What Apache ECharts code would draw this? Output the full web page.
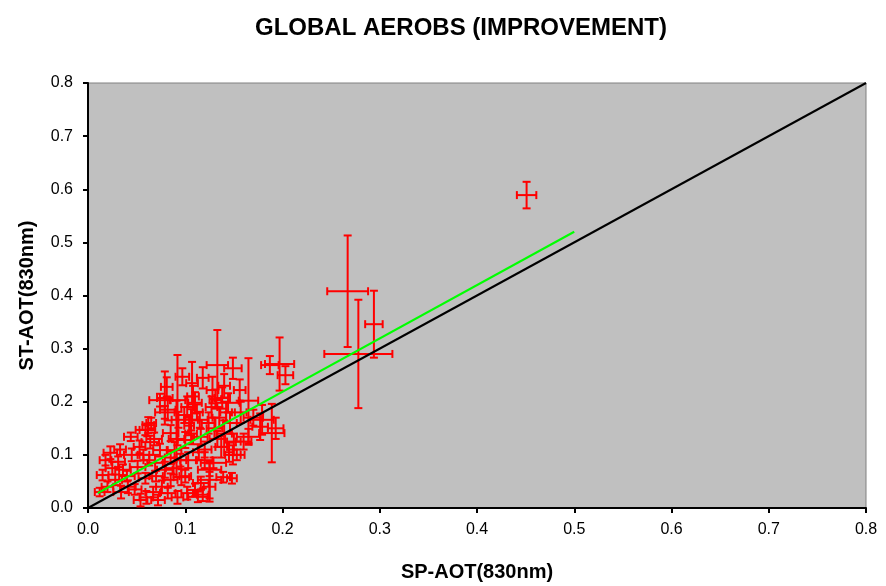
<!DOCTYPE html>
<html><head><meta charset="utf-8">
<script src="https://cdn.jsdelivr.net/npm/echarts@6/dist/echarts.min.js"></script>
<style>html,body{margin:0;padding:0;background:#fff}#c{width:886px;height:586px}</style>
</head><body><div id="c"></div>
<script>
// SP-AOT (x), ST-AOT (y) and their error half-widths
const spAot = [0.451,0.267,0.278,0.294,0.197,0.203,0.187,0.149,0.133,0.165,0.179,0.189,0.165,0.149,0.148,0.125,0.113,0.125,0.097,0.092,
0.081,0.107,0.074,0.082,0.128,0.138,0.144,0.156,0.061,0.115,0.102,0.079,0.065,0.059,0.044,0.023,0.015,0.031,0.062,0.064,
0.079,0.091,0.036,0.041,0.054,0.067,0.072,0.082,0.028,0.034,0.051,0.059,0.069,0.074,0.085,0.093,0.099,0.103,0.096,0.110,
0.116,0.085,0.079,0.089,0.100,0.106,0.110,0.116,0.120,0.118,0.125,0.139,0.129,0.102,0.193,0.177,0.160,0.153,0.145,0.130,
0.135,0.140,0.127,0.133,0.142,0.137,0.124,0.146,0.131,0.106,0.108,0.104,0.112,0.020,0.025,0.045,0.040,0.048,0.060,0.063,
0.053,0.070,0.076,0.088,0.095,0.092,0.033,0.018,0.150,0.157,0.120,0.118,0.140,0.170,0.068,0.057,0.012,0.085,0.100,0.114];
const stAot = [0.589,0.408,0.290,0.346,0.271,0.250,0.269,0.263,0.269,0.202,0.166,0.141,0.134,0.100,0.056,0.053,0.021,0.072,0.247,0.203,
0.228,0.235,0.203,0.185,0.222,0.207,0.198,0.222,0.147,0.166,0.190,0.207,0.160,0.147,0.134,0.104,0.062,0.087,0.156,0.124,
0.180,0.130,0.072,0.040,0.015,0.030,0.015,0.028,0.053,0.030,0.077,0.056,0.085,0.109,0.141,0.166,0.175,0.090,0.058,0.034,
0.047,0.053,0.072,0.109,0.128,0.166,0.198,0.134,0.090,0.025,0.040,0.058,0.085,0.028,0.150,0.153,0.125,0.100,0.105,0.150,
0.170,0.140,0.190,0.130,0.180,0.115,0.160,0.160,0.205,0.140,0.210,0.155,0.180,0.040,0.075,0.100,0.060,0.035,0.020,0.090,
0.115,0.060,0.040,0.075,0.090,0.020,0.110,0.090,0.125,0.180,0.110,0.245,0.230,0.170,0.130,0.100,0.030,0.095,0.060,0.105];
const spErr = [0.010,0.021,0.035,0.009,0.015,0.008,0.009,0.009,0.011,0.010,0.012,0.013,0.012,0.008,0.005,0.012,0.010,0.012,0.007,0.008,
0.006,0.006,0.011,0.008,0.006,0.008,0.012,0.006,0.008,0.008,0.006,0.008,0.005,0.010,0.007,0.007,0.006,0.007,0.006,0.009,
0.010,0.008,0.008,0.008,0.007,0.008,0.007,0.008,0.007,0.008,0.008,0.007,0.008,0.007,0.008,0.007,0.008,0.008,0.008,0.008,
0.008,0.007,0.008,0.007,0.008,0.007,0.007,0.007,0.008,0.006,0.006,0.007,0.013,0.006,0.008,0.008,0.008,0.008,0.005,0.008,
0.007,0.008,0.006,0.008,0.006,0.006,0.007,0.007,0.006,0.006,0.006,0.005,0.006,0.006,0.007,0.008,0.008,0.007,0.007,0.006,
0.006,0.007,0.006,0.008,0.006,0.006,0.006,0.006,0.007,0.006,0.007,0.006,0.006,0.010,0.008,0.006,0.005,0.006,0.006,0.006];
const stErr = [0.025,0.105,0.102,0.063,0.050,0.017,0.017,0.020,0.066,0.080,0.028,0.055,0.015,0.018,0.010,0.035,0.010,0.012,0.016,0.085,
0.018,0.040,0.012,0.020,0.025,0.020,0.018,0.020,0.012,0.015,0.020,0.050,0.010,0.010,0.008,0.012,0.010,0.010,0.015,0.012,
0.012,0.072,0.010,0.012,0.012,0.010,0.010,0.010,0.010,0.012,0.012,0.010,0.015,0.012,0.015,0.015,0.015,0.015,0.015,0.012,
0.012,0.012,0.015,0.015,0.015,0.020,0.020,0.015,0.015,0.012,0.028,0.010,0.010,0.012,0.020,0.025,0.015,0.010,0.018,0.020,
0.020,0.025,0.020,0.015,0.020,0.020,0.020,0.020,0.018,0.020,0.020,0.018,0.015,0.010,0.012,0.012,0.010,0.010,0.012,0.010,
0.012,0.010,0.012,0.012,0.012,0.012,0.010,0.010,0.015,0.020,0.015,0.020,0.022,0.015,0.012,0.010,0.008,0.012,0.012,0.015];
// reference lines
const oneToOneLine = [[0, 0], [0.8, 0.8]];
const fitLine = [[0.01, 0.028], [0.5, 0.52]];

const points = spAot.map((x, i) => [x, stAot[i], spErr[i], stErr[i]]);
const chart = echarts.init(document.getElementById('c'), null, {renderer: 'canvas'});
const FONT = "'Liberation Sans', Arial, sans-serif";
const axisCommon = {
  type: 'value', min: 0, max: 0.8, interval: 0.1,
  axisLine: {show: true, onZero: false, lineStyle: {color: '#000', width: 2}},
  axisTick: {show: true, inside: false, length: 5, lineStyle: {color: '#000', width: 2}},
  splitLine: {show: false},
  axisLabel: {color: '#000', fontSize: 16, fontFamily: FONT, formatter: v => v.toFixed(1)},
  nameLocation: 'middle',
  nameTextStyle: {color: '#000', fontSize: 20, fontWeight: 'bold', fontFamily: FONT}
};
chart.setOption({
  animation: false,
  backgroundColor: '#fff',
  title: {text: 'GLOBAL AEROBS (IMPROVEMENT)', left: 456, textAlign: 'center', top: 11,
    textStyle: {color: '#000', fontSize: 24, fontWeight: 'bold', fontFamily: FONT}},
  grid: {left: 88, right: 20, top: 83, bottom: 78, show: true, backgroundColor: '#C0C0C0',
    borderColor: '#808080', borderWidth: 1, containLabel: false, outerBoundsMode: 'none'},
  xAxis: Object.assign({}, axisCommon, {name: 'SP-AOT(830nm)', nameGap: 54,
    axisLabel: Object.assign({}, axisCommon.axisLabel, {margin: 14})}),
  yAxis: Object.assign({}, axisCommon, {name: 'ST-AOT(830nm)', nameGap: 51,
    axisLabel: Object.assign({}, axisCommon.axisLabel, {margin: 15})}),
  series: [
    {
      type: 'custom', clip: true, z: 2,
      encode: {x: 0, y: 1},
      data: points,
      renderItem: function (params, api) {
        const x = api.value(0), y = api.value(1), ex = api.value(2), ey = api.value(3);
        const c = api.coord([x, y]);
        const l = api.coord([x - ex, y]), r = api.coord([x + ex, y]);
        const t = api.coord([x, y + ey]), b = api.coord([x, y - ey]);
        const cap = 4;
        const style = {stroke: '#FF0000', lineWidth: 2};
        return {type: 'group', children: [
          {type: 'line', shape: {x1: l[0], y1: c[1], x2: r[0], y2: c[1]}, style},
          {type: 'line', shape: {x1: l[0], y1: c[1] - cap, x2: l[0], y2: c[1] + cap}, style},
          {type: 'line', shape: {x1: r[0], y1: c[1] - cap, x2: r[0], y2: c[1] + cap}, style},
          {type: 'line', shape: {x1: c[0], y1: t[1], x2: c[0], y2: b[1]}, style},
          {type: 'line', shape: {x1: c[0] - cap, y1: t[1], x2: c[0] + cap, y2: t[1]}, style},
          {type: 'line', shape: {x1: c[0] - cap, y1: b[1], x2: c[0] + cap, y2: b[1]}, style}
        ]};
      }
    },
    {type: 'line', data: oneToOneLine, symbol: 'none', z: 3, silent: true,
      lineStyle: {color: '#000', width: 2}},
    {type: 'line', data: fitLine, symbol: 'none', z: 4, silent: true,
      lineStyle: {color: '#00FF00', width: 2}}
  ]
});
</script>
</body></html>
